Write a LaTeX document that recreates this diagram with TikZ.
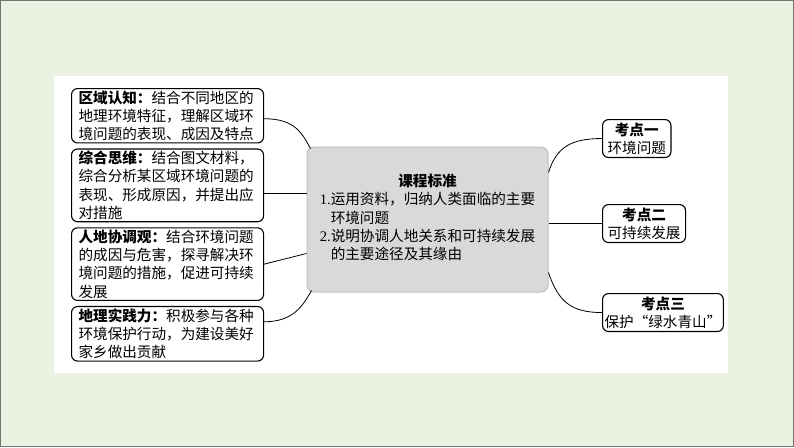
\documentclass[tikz,border=0pt]{standalone}
\usepackage{fontspec}
\setmainfont{Noto Sans CJK SC}
\newfontfamily\numfont{Liberation Serif}
\usepackage{xcolor}
\usepackage{tikz}
\usetikzlibrary{positioning}

\definecolor{pagegreen}{HTML}{EBF2E2}
\newcommand{\boxfont}{\fontsize{14.6}{18.3}\selectfont}

\begin{document}
\begin{tikzpicture}[
    x=1pt, y=-1pt,
    node distance=5pt,
    topic/.style={draw, line width=1.1pt, rounded corners=6pt, fill=white, text width=178pt, inner xsep=7pt, inner ysep=2pt, align=left, font=\boxfont},
    core/.style={draw=gray!50, line width=1pt, rounded corners=7pt, fill=gray!30, minimum width=241pt, minimum height=145pt, inner sep=0pt, align=center, font=\boxfont},
    kaodian/.style={draw, line width=1.1pt, rounded corners=6pt, fill=white, inner xsep=5pt, inner ysep=3pt, align=center, font=\boxfont},
    link/.style={line width=0.8pt}
]
\useasboundingbox (0,0) rectangle (794,447);
\fill[pagegreen] (0,0) rectangle (794,447);
\draw[black!55, line width=1pt] (0.5,0.5) rectangle (793.5,446.5);
\fill[white] (54,76) rectangle (728,373);

\node[core] (std) at (427.5,219.5) {\begin{tabular}{@{}l@{}l@{}}
\multicolumn{2}{c}{\textbf{课程标准}}\\
{\numfont 1.}&运用资料，归纳人类面临的主要\\
&环境问题\\
{\numfont 2.}&说明协调人地关系和可持续发展\\
&的主要途径及其缘由
\end{tabular}};

\node[topic, anchor=north west] (qyrz) at (71,88) {\textbf{区域认知：}结合不同地区的\\地理环境特征，理解区域环\\境问题的表现、成因及特点};
\node[topic, below=of qyrz] (zhsw) {\textbf{综合思维：}结合图文材料，\\综合分析某区域环境问题的\\表现、形成原因，并提出应\\对措施};
\node[topic, below=of zhsw] (rdxt) {\textbf{人地协调观：}结合环境问题\\的成因与危害，探寻解决环\\境问题的措施，促进可持续\\发展};
\node[topic, below=of rdxt] (dlsj) {\textbf{地理实践力：}积极参与各种\\环境保护行动，为建设美好\\家乡做出贡献};

\node[kaodian, anchor=north west] (kd1) at (602,119) {\textbf{考点一}\\环境问题};
\node[kaodian, anchor=north west] (kd2) at (602,204) {\textbf{考点二}\\可持续发展};
\node[kaodian, anchor=north west, inner xsep=2pt] (kd3) at (602,293) {\textbf{考点三}\\保护“绿水青山”};

% left side
\coordinate (zhswout) at ([yshift=-8pt]zhsw.east);
\draw[link] ([yshift=-3pt]qyrz.east) .. controls +(32,0) and +(-8,-14) .. ([xshift=4pt,yshift=-2pt]std.north west);
\draw[link] (zhswout) -- (std.west |- zhswout);
\draw[link] (rdxt.east) -- ([yshift=-34pt]std.west);
\draw[link] ([yshift=12pt]dlsj.east) .. controls +(30,0) and +(-8,14) .. ([xshift=5pt,yshift=2pt]std.south west);
% right side
\draw[link] ([yshift=47pt]std.east) .. controls +(8,-26) and +(-30,0) .. (kd1.west);
\draw[link] (std.east |- kd2.west) -- (kd2.west);
\draw[link] ([yshift=-53pt]std.east) .. controls +(10,30) and +(-30,0) .. (kd3.west);
\end{tikzpicture}
\end{document}
